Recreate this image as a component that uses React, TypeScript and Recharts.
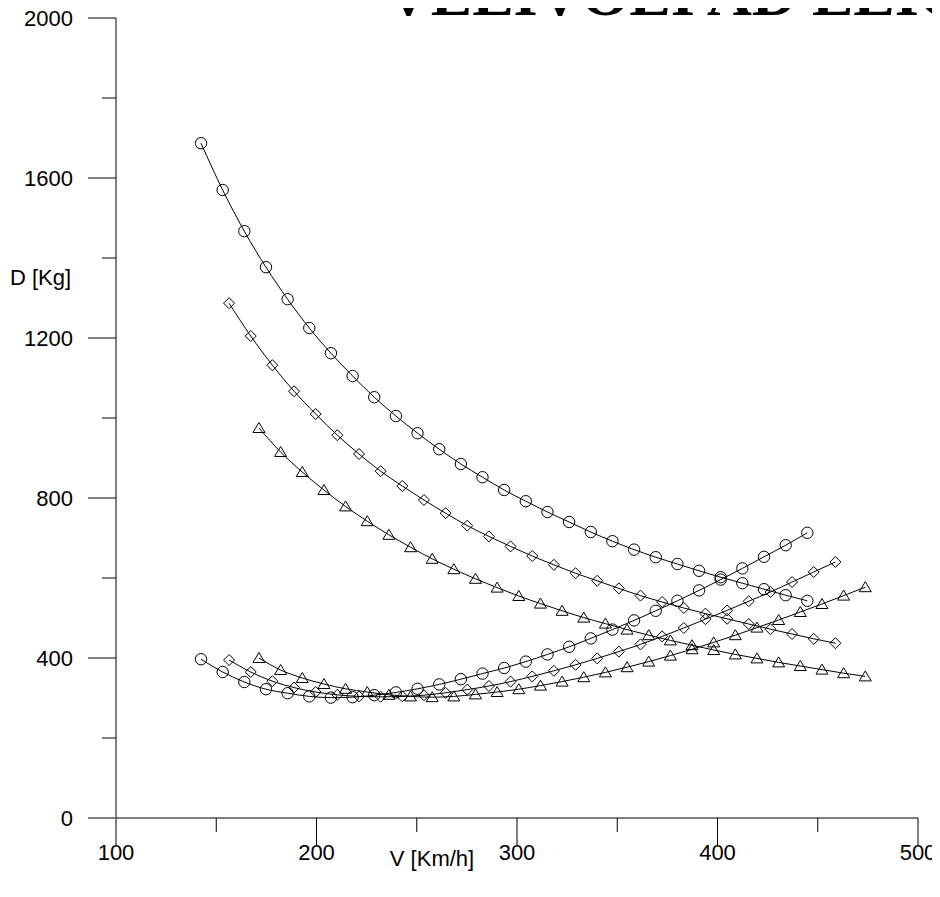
import React from 'react';
import { LineChart, Line, XAxis, YAxis } from 'recharts';

// Speeds (V, km/h) for each marker family
const vCircle = [142.4, 153.2, 164.0, 174.8, 185.6, 196.4, 207.2, 218.0, 228.8, 239.6, 250.4, 261.2, 272.0, 282.8, 293.6, 304.4, 315.2, 326.0, 336.8, 347.6, 358.4, 369.2, 380.0, 390.8, 401.6, 412.4, 423.2, 434.0, 444.8];
const vDiamond = [156.4, 167.2, 178.0, 188.8, 199.6, 210.4, 221.2, 232.0, 242.8, 253.6, 264.4, 275.2, 286.0, 296.8, 307.6, 318.4, 329.2, 340.0, 350.8, 361.6, 372.4, 383.2, 394.0, 404.8, 415.6, 426.4, 437.2, 448.0, 458.8];
const vTriangle = [171.3, 182.1, 192.9, 203.7, 214.5, 225.3, 236.1, 246.9, 257.7, 268.5, 279.3, 290.1, 300.9, 311.7, 322.5, 333.3, 344.1, 354.9, 365.7, 376.5, 387.3, 398.1, 408.9, 419.7, 430.5, 441.3, 452.1, 462.9, 473.7];

// Drag values (D, kg)
const circleUpper = [1687, 1570, 1467, 1377, 1297, 1225, 1162, 1105, 1052, 1005, 962, 922, 885, 852, 820, 792, 765, 740, 715, 692, 671, 652, 635, 618, 602, 587, 572, 557, 543];
const circleLower = [397, 365, 340, 322, 312, 304, 301, 302, 307, 314, 323, 334, 347, 361, 375, 391, 409, 428, 449, 471, 494, 518, 543, 569, 596, 624, 653, 682, 713];
const diamondUpper = [1287, 1205, 1132, 1067, 1010, 957, 910, 867, 830, 795, 762, 731, 704, 679, 655, 633, 612, 593, 574, 556, 540, 525, 511, 498, 485, 472, 460, 448, 437];
const diamondLower = [395, 365, 342, 326, 315, 308, 304, 303, 304, 307, 313, 321, 330, 341, 354, 368, 383, 399, 416, 434, 454, 475, 497, 519, 542, 565, 590, 615, 640];
const triangleUpper = [975, 915, 865, 820, 779, 742, 708, 677, 648, 622, 598, 576, 555, 536, 518, 501, 486, 471, 457, 444, 432, 420, 409, 399, 389, 380, 371, 362, 354];
const triangleLower = [400, 370, 350, 335, 323, 315, 308, 304, 302, 304, 309, 315, 322, 331, 341, 352, 364, 377, 391, 406, 422, 439, 457, 476, 495, 515, 535, 556, 577];

const xTicks = [100, 150, 200, 250, 300, 350, 400, 450, 500];
const yTicks = [0, 200, 400, 600, 800, 1000, 1200, 1400, 1600, 1800, 2000];
const majorX = [100, 200, 300, 400, 500];
const majorY = [0, 400, 800, 1200, 1600, 2000];

const TITLE = 'VELIVOLI AD ELICA';
const X_LABEL = 'V [Km/h]';
const Y_LABEL = 'D [Kg]';

const build = (vs: number[], ds: number[]) => vs.map((v, i) => ({ v, d: ds[i] }));

const FONT = '"Liberation Sans", Arial, sans-serif';

const CircleDot = (p: any) => {
  if (p.cx == null || p.cy == null) return null;
  return <circle cx={p.cx} cy={p.cy} r={5.7} fill="none" stroke="#000" strokeWidth={1} />;
};
const DiamondDot = (p: any) => {
  if (p.cx == null || p.cy == null) return null;
  const { cx, cy } = p;
  const s = 5.5;
  return <polygon points={`${cx},${cy - s} ${cx + s},${cy} ${cx},${cy + s} ${cx - s},${cy}`} fill="none" stroke="#000" strokeWidth={1} />;
};
const TriangleDot = (p: any) => {
  if (p.cx == null || p.cy == null) return null;
  const { cx, cy } = p;
  return <polygon points={`${cx},${cy - 5.5} ${cx + 6},${cy + 4.5} ${cx - 6},${cy + 4.5}`} fill="none" stroke="#000" strokeWidth={1} />;
};

const XTick = (props: any) => {
  const { x, y, payload } = props;
  const major = majorX.includes(payload.value);
  return (
    <g>
      <line x1={x} x2={x} y1={y} y2={y + (major ? 27 : 14)} stroke="#000" strokeWidth={1} />
      {major && (
        <text x={x} y={y + 42} textAnchor="middle" fontSize={22} fontFamily={FONT} fill="#000">
          {payload.value}
        </text>
      )}
    </g>
  );
};

const YTick = (props: any) => {
  const { x, y, payload } = props;
  const major = majorY.includes(payload.value);
  const zero = payload.value === 0;
  return (
    <g>
      <line x1={x - (major ? 28 : 14)} x2={x} y1={y} y2={y} stroke={zero ? '#808080' : '#000'} strokeWidth={zero ? 2 : 1} />
      {major && (
        <text x={x - 43} y={y} dy="0.35em" textAnchor="end" fontSize={22} fontFamily={FONT} fill="#000">
          {payload.value}
        </text>
      )}
    </g>
  );
};

const series = [
  { key: 'cu', data: build(vCircle, circleUpper), dot: <CircleDot /> },
  { key: 'cl', data: build(vCircle, circleLower), dot: <CircleDot /> },
  { key: 'du', data: build(vDiamond, diamondUpper), dot: <DiamondDot /> },
  { key: 'dl', data: build(vDiamond, diamondLower), dot: <DiamondDot /> },
  { key: 'tu', data: build(vTriangle, triangleUpper), dot: <TriangleDot /> },
  { key: 'tl', data: build(vTriangle, triangleLower), dot: <TriangleDot /> },
];

export default function App() {
  return (
    <div style={{ margin: -8, position: 'relative', width: 940, height: 897, background: '#fff', overflow: 'hidden' }}>
      <LineChart width={940} height={897} margin={{ top: 18, right: 22, left: 0, bottom: 0 }}>
        <XAxis
          type="number"
          dataKey="v"
          domain={[100, 500]}
          ticks={xTicks}
          interval={0}
          allowDataOverflow
          axisLine={{ stroke: '#808080', strokeWidth: 2 }}
          tickLine={false}
          tickSize={0}
          tickMargin={0}
          tick={<XTick />}
          height={79}
        />
        <YAxis
          type="number"
          dataKey="d"
          domain={[0, 2000]}
          ticks={yTicks}
          interval={0}
          allowDataOverflow
          axisLine={{ stroke: '#000', strokeWidth: 1 }}
          tickLine={false}
          tickSize={0}
          tickMargin={0}
          tick={<YTick />}
          width={116}
        />
        {series.map((s) => (
          <Line
            key={s.key}
            data={s.data}
            dataKey="d"
            type="monotone"
            stroke="#000"
            strokeWidth={1}
            dot={s.dot}
            activeDot={false}
            isAnimationActive={false}
          />
        ))}
      </LineChart>
      <svg width={940} height={897} style={{ position: 'absolute', left: 0, top: 0, pointerEvents: 'none' }}>
        <text x={386} y={15} fontSize={62} fontWeight="bold" fontFamily='"Liberation Serif", "Times New Roman", serif' fill="#000">
          {TITLE}
        </text>
        <text x={10} y={285} fontSize={22} fontFamily={FONT} fill="#000">
          {Y_LABEL}
        </text>
        <text x={432} y={866} textAnchor="middle" fontSize={22} fontFamily={FONT} fill="#000">
          {X_LABEL}
        </text>
      </svg>
    </div>
  );
}
